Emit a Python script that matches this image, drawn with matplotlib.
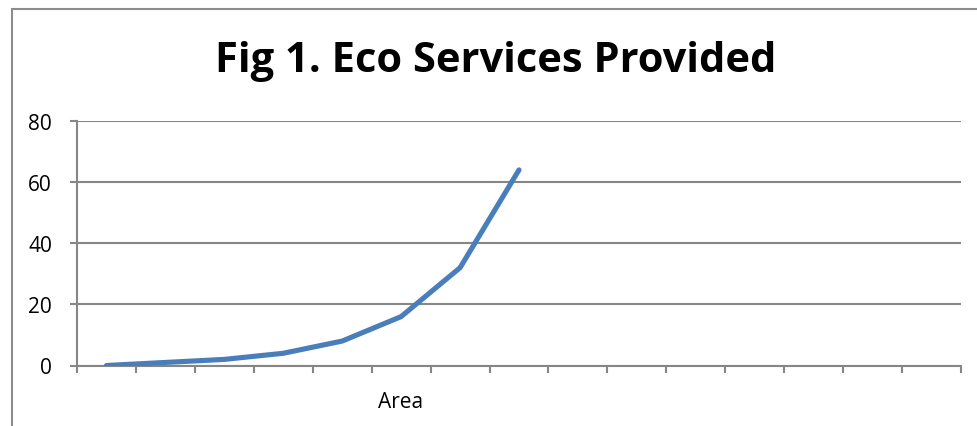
import matplotlib.pyplot as plt
from matplotlib.patches import Rectangle
import numpy as np

# data
categories = list(range(1, 16))
values = [0, 1, 2, 4, 8, 16, 32, 64]
y_ticks = [0, 20, 40, 60, 80]
title = "Fig 1. Eco Services Provided"
x_title = "Area"

plt.rcParams['font.family'] = ['Open Sans', 'DejaVu Sans']

fig = plt.figure(figsize=(9.78, 4.27), dpi=100)
W, H = 978, 427

# chart frame (Excel style, partly cut off on the right/bottom)
fig.patches.append(Rectangle((12 / W, -0.1), 1.1, (H - 10) / H + 0.1,
                             transform=fig.transFigure, fill=False,
                             edgecolor='#8c8c8c', linewidth=1.5))

ax = fig.add_axes([77 / W, 60.5 / H, (961 - 77) / W, (366.5 - 122) / H])

x = np.arange(len(values)) + 0.5
ax.plot(x, values, color='#4a7ebb', linewidth=3.7, solid_capstyle='round',
        solid_joinstyle='round', zorder=3)

ax.set_xlim(0, len(categories))
ax.set_ylim(0, 80)
ax.set_yticks(y_ticks)
ax.set_xticks(np.arange(len(categories) + 1))
ax.set_xticklabels([])
ax.tick_params(axis='x', length=5, width=1.5, color='#868686', direction='out')
ax.tick_params(axis='y', length=5, width=1.5, color='#868686', direction='out',
               labelsize=15, pad=13)
ax.yaxis.grid(True, color='#868686', linewidth=1.5)
ax.set_axisbelow(True)

for s in ['top', 'right']:
    ax.spines[s].set_visible(False)
for s in ['left', 'bottom']:
    ax.spines[s].set_color('#868686')
    ax.spines[s].set_linewidth(1.5)

ax.set_xlabel(x_title, fontsize=15)
ax.xaxis.set_label_coords((401 - 77) / (961 - 77), -0.105)

fig.text(496 / W, 1 - 62 / H, title, ha='center', va='center',
         fontsize=30, fontweight='bold')

fig.savefig('out.png', dpi=100)
